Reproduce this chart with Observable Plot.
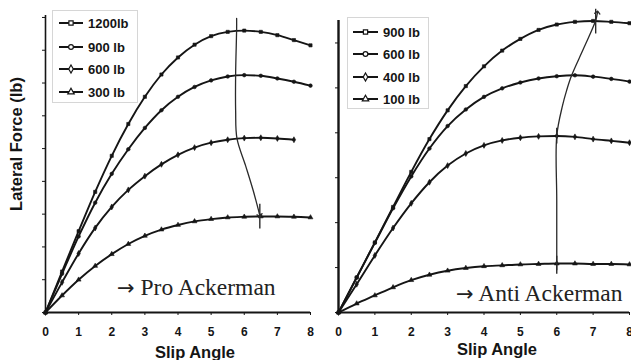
<!DOCTYPE html>
<html><head><meta charset="utf-8">
<script src="https://cdn.jsdelivr.net/npm/d3@7"></script>
<script src="https://cdn.jsdelivr.net/npm/@observablehq/plot@0.6"></script>
<style>
body{margin:0;background:#fff;}
#wrap{position:relative;width:631px;height:360px;overflow:hidden;background:#fff;}
.panel{position:absolute;top:0;}
.legend{position:absolute;border:1px solid #d6d6d6;background:#fff;}
#overlay{position:absolute;left:0;top:0;pointer-events:none;}
</style></head>
<body><div id="wrap"></div>
<script>
// ---------- data ----------
const slip = [0,0.5,1,1.5,2,2.5,3,3.5,4,4.5,5,5.5,6,6.5,7,7.5,8];
const xTicks = [0,1,2,3,4,5,6,7,8];
const yTicksLeft = [0,100,200,300,400,500,600,700,800,900];
const yTicksRight = [0,100,200,300,400,500,600];

// Pro Ackerman (left panel)
const leftLabels = ["1200lb","900 lb","600 lb","300 lb"];
const left1200 = [0,125,248,368,478,575,658,726,778,817,843,856,860,856,846,831,815];
const left900  = [0,118,232,335,423,498,563,617,658,688,708,720,724,722,714,704,692];
const left600  = [0,92,180,258,322,374,416,452,481,503,518,527,532,533,531,527];
const left300  = [0,52,100,142,178,209,234,253,267,278,285,290,292,293,293,292,290];

// Anti Ackerman (right panel)
const rightLabels = ["900 lb","600 lb","400 lb","100 lb"];
const right900 = [0,78,156,235,313,386,450,504,548,583,609,629,641,647,649,647,644];
const right600 = [0,78,155,232,303,365,415,452,480,499,512,521,526,528,525,520,514];
const right400 = [0,63,127,188,243,290,327,354,372,383,389,392,393,391,386,382,378];
const right100 = [0,20,38,56,72,84,93,99,103,105,107,108,109,109,108,108,107];

const symbols = ["square","circle","diamond","triangle"];

// trend lines through the peaks
const leftTrendX = [5.77,5.77,5.74,5.74,5.78,6.04,6.27,6.47];
const leftTrendY = [897,866,729,616,531,448,372,296];
const rightTrendX = [6.0,6.0,6.0,6.16,6.27,6.41,6.74,7.07,7.12];
const rightTrendY = [95,250,393,461,494,528,588,650,668];

// small cross ticks at intersections
const leftCrossX = [6.47];
const leftCrossY1 = [255];
const leftCrossY2 = [330];
const rightCrossX = [6.0,6.0,7.07];
const rightCrossY1 = [85,375,620];
const rightCrossY2 = [125,410,675];

const arrowGlyph = "→";
const notes = ["Pro Ackerman","Anti Ackerman"];
const xTitle = "Slip Angle";
const yTitle = "Lateral Force (lb)";

// ---------- build ----------
function rows(labels, arrays){
  const out = [];
  labels.forEach((lab,k)=>arrays[k].forEach((v,i)=>out.push({series:lab, slip:slip[i], force:v})));
  return out;
}
function pts(xs, ys){ return xs.map((x,i)=>({x, y:ys[i]})); }
function crosses(xs,y1,y2){ return xs.map((x,i)=>({x,y1:y1[i],y2:y2[i]})); }

const ink = "#151515";
const font = "'Liberation Sans', Arial, sans-serif";

function panel(o){
  const data = rows(o.labels, o.arrays);
  return Plot.plot({
    width:o.width, height:360,
    marginLeft:o.ml, marginRight:o.mr, marginTop:o.mt, marginBottom:48,
    style:{fontFamily:font, fontWeight:"bold", fontSize:"12px", color:ink, background:"transparent", overflow:"visible"},
    x:{domain:[0,8], ticks:xTicks, tickSize:3, tickPadding:12, label:null},
    y:{domain:[0,o.ymax], ticks:o.yTicks, tickSize:3, tickFormat:()=>"", label:null},
    symbol:{domain:o.labels, range:symbols},
    marks:[
      Plot.ruleY([0],{stroke:ink, strokeWidth:2}),
      Plot.ruleX([0],{stroke:ink, strokeWidth:o.yAxisW}),
      Plot.line(data,{x:"slip", y:"force", z:"series", stroke:ink, strokeWidth:1.9, curve:"monotone-x"}),
      Plot.dot(data,{x:"slip", y:"force", symbol:"series", r:1.8, fill:ink, stroke:ink, strokeWidth:0.6}),
      Plot.line(o.trend,{x:"x", y:"y", stroke:"#2a2a2a", strokeWidth:1.3, curve:"catmull-rom", markerEnd:"arrow"}),
      Plot.ruleX(o.cross,{x:"x", y1:"y1", y2:"y2", stroke:"#2a2a2a", strokeWidth:1.4})
    ]
  });
}

const wrap = document.getElementById("wrap");

const pL = panel({width:315, ml:45, mr:5, mt:15, ymax:906, yTicks:yTicksLeft, yAxisW:1.6,
  labels:leftLabels, arrays:[left1200,left900,left600,left300],
  trend:pts(leftTrendX,leftTrendY), cross:crosses(leftCrossX,leftCrossY1,leftCrossY2)});
pL.classList.add("panel"); pL.style.left="0px";
wrap.appendChild(pL);

const pR = panel({width:316, ml:23, mr:2, mt:20, ymax:650, yTicks:yTicksRight, yAxisW:2.4,
  labels:rightLabels, arrays:[right900,right600,right400,right100],
  trend:pts(rightTrendX,rightTrendY), cross:crosses(rightCrossX,rightCrossY1,rightCrossY2)});
pR.classList.add("panel"); pR.style.left="315px";
wrap.appendChild(pR);

// legends
const d3sym = {square:d3.symbolSquare, circle:d3.symbolCircle, diamond:d3.symbolDiamond, triangle:d3.symbolTriangle};
function legend(labels, left, top, w, h, rowY, lineX0, lineX1, textX){
  const div = d3.select(wrap).append("div").attr("class","legend")
    .style("left",left+"px").style("top",top+"px").style("width",w+"px").style("height",h+"px");
  const svg = div.append("svg").attr("width",w).attr("height",h).style("display","block");
  labels.forEach((lab,i)=>{
    const g = svg.append("g").attr("transform",`translate(0,${rowY[i]})`);
    g.append("line").attr("x1",lineX0).attr("x2",lineX1).attr("stroke",ink).attr("stroke-width",2);
    g.append("path").attr("d",d3.symbol(d3sym[symbols[i]],18)())
      .attr("transform",`translate(${(lineX0+lineX1)/2},0)`).attr("fill","#fff").attr("stroke",ink).attr("stroke-width",1.2);
    g.append("text").attr("x",textX).attr("dy","0.36em").attr("font-family",font).attr("font-weight","bold")
      .attr("font-size",13).attr("fill",ink).text(lab);
  });
}
legend(leftLabels, 52, 10, 84, 91, [12,36,58,81], 6, 30, 35);
legend(rightLabels, 347, 17, 80, 90, [14,36,59,81], 5, 30, 35);

// overlay titles & notes
const ov = d3.select(wrap).append("svg").attr("id","overlay").attr("width",631).attr("height",360);
ov.append("text").attr("transform","translate(22,144) rotate(-90)").attr("text-anchor","middle")
  .attr("font-family",font).attr("font-weight","bold").attr("font-size",16.5).attr("fill",ink).text(yTitle);
ov.append("text").attr("x",195).attr("y",358).attr("text-anchor","middle")
  .attr("font-family",font).attr("font-weight","bold").attr("font-size",16.5).attr("fill",ink).text(xTitle);
ov.append("text").attr("x",497).attr("y",355).attr("text-anchor","middle")
  .attr("font-family",font).attr("font-weight","bold").attr("font-size",16.5).attr("fill",ink).text(xTitle);
function note(x, y, label){
  const t = ov.append("text").attr("x",x).attr("y",y)
    .attr("font-family","'Liberation Serif','Times New Roman',serif").attr("font-size",23.5).attr("fill","#222");
  t.append("tspan").attr("font-family","'DejaVu Sans'").attr("font-size",21).text(arrowGlyph);
  t.append("tspan").text(" " + label);
}
note(117, 295, notes[0]);
note(456, 301, notes[1]);
</script>
</body></html>
